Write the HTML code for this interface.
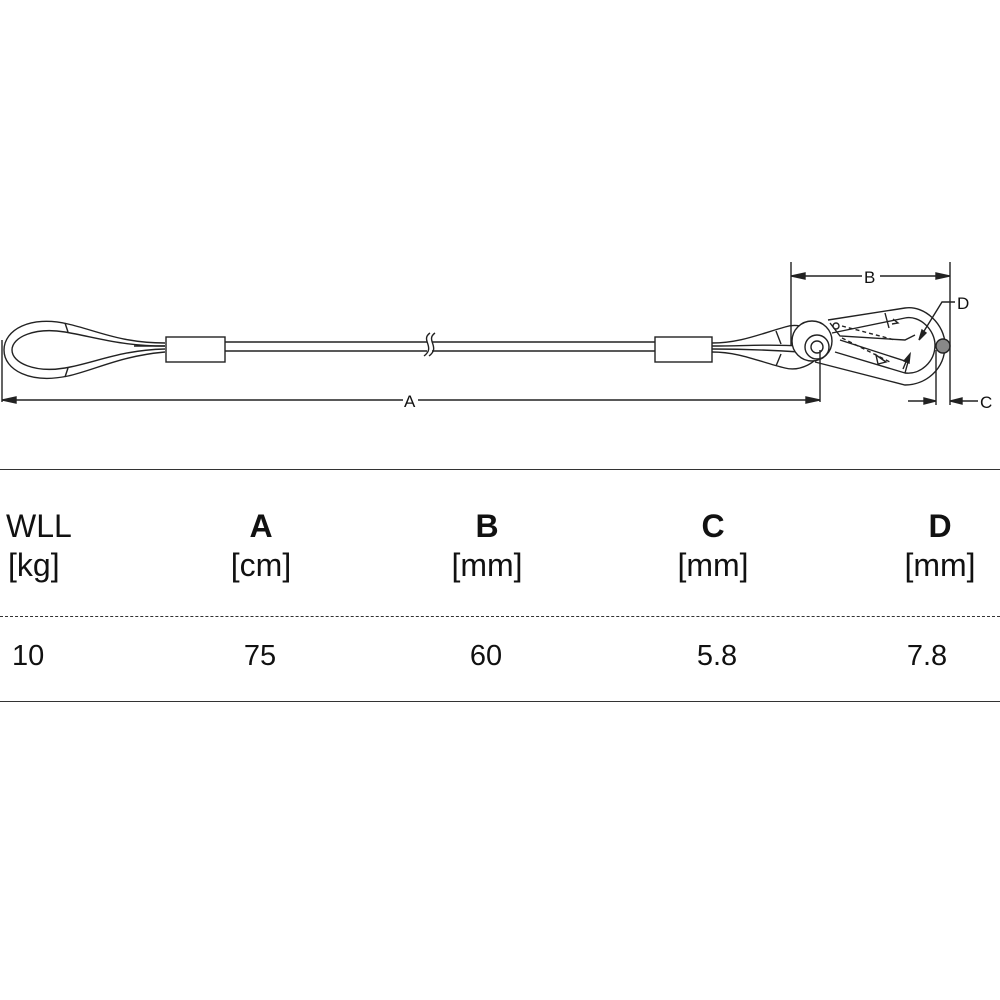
<!DOCTYPE html>
<html><head><meta charset="utf-8"><style>
html,body{margin:0;padding:0;background:#fff;}
body{width:1000px;height:1000px;position:relative;overflow:hidden;font-family:"Liberation Sans",sans-serif;color:#111;}
.t{position:absolute;font-size:32px;line-height:1;white-space:nowrap;}
.c{transform:translateX(-50%);}
.b{font-weight:bold;}
</style></head><body>
<svg width="1000" height="480" style="position:absolute;left:0;top:0" fill="none" stroke="#222" stroke-width="1.4">
<!-- left loop -->
<path d="M165,343 C120,343 95,330 68,324 C30,315 4,330 4,350 C4,370 30,384 68,376 C95,370 120,356 165,352"/>
<path d="M165,346 C120,346 95,337 65,332 C35,327 12,337 12,350 C12,363 35,373 65,368 C95,363 120,350 165,349"/>
<path d="M134,346 L165,346"/>
<line x1="65" y1="323" x2="68" y2="332"/><line x1="65" y1="377" x2="68" y2="368"/>
<!-- ferrules -->
<rect x="166" y="337" width="59" height="25" fill="#fff"/>
<rect x="655" y="337" width="57" height="25" fill="#fff"/>
<!-- cable -->
<line x1="225" y1="342" x2="427" y2="342"/><line x1="225" y1="351" x2="427" y2="351"/>
<line x1="432" y1="342" x2="655" y2="342"/><line x1="432" y1="351" x2="655" y2="351"/>
<path d="M430,333 C420,340 436,347 424,356"/><path d="M435,333 C425,340 441,347 429,356"/>
<!-- right thimble loop around ring -->
<path d="M712,343 C740,343 760,334 785,327 C800,322 815,330 818,342"/>
<path d="M712,346 C745,346 770,344 800,346"/>
<path d="M712,349 C745,349 770,350 800,352"/>
<path d="M712,352 C740,352 760,362 785,368 C800,372 818,362 820,352"/>
<line x1="776" y1="331" x2="781" y2="344"/><line x1="776" y1="366" x2="781" y2="354"/>
<!-- carabiner body -->
<path d="M828,320 L905,308 C925,305 945,325 945,345 C945,370 925,385 905,385 L815,362" fill="#fff"/>
<path d="M832,333 L905,318 C920,315 935,330 935,345 C935,362 920,375 905,373 L835,352"/>
<line x1="885" y1="313" x2="889" y2="328"/>
<path d="M830,323 L840,336 L905,340 L915,335"/>
<path d="M840,340 L908,362 L905,373"/>
<line x1="842" y1="326" x2="895" y2="340" stroke-dasharray="4,3"/>
<line x1="842" y1="338" x2="890" y2="362" stroke-dasharray="4,3"/>
<path d="M876,355 L886,362 L878,364 Z"/>
<path d="M893,319 L898,323 L892,324"/>
<circle cx="836" cy="326" r="3"/>
<!-- rings -->
<circle cx="812" cy="341" r="20" fill="#fff"/>
<circle cx="817" cy="347" r="12" fill="#fff"/>
<circle cx="817" cy="347" r="6"/>
<circle cx="943" cy="346" r="7" fill="#888"/>
<!-- dimension A -->
<line x1="2" y1="340" x2="2" y2="402"/>
<line x1="2" y1="400" x2="403" y2="400"/><line x1="418" y1="400" x2="820" y2="400"/>
<line x1="820" y1="350" x2="820" y2="402"/>
<path d="M2,400 L16,397 L16,403 Z" fill="#222"/><path d="M820,400 L806,397 L806,403 Z" fill="#222"/>
<!-- dimension B -->
<line x1="791" y1="262" x2="791" y2="345"/><line x1="950" y1="262" x2="950" y2="405"/>
<line x1="791" y1="276" x2="862" y2="276"/><line x1="880" y1="276" x2="950" y2="276"/>
<path d="M791,276 L805,273 L805,279 Z" fill="#222"/><path d="M950,276 L936,273 L936,279 Z" fill="#222"/>
<!-- C -->
<line x1="936" y1="350" x2="936" y2="405"/>
<line x1="908" y1="401" x2="936" y2="401"/><path d="M936,401 L924,398 L924,404 Z" fill="#222"/>
<line x1="950" y1="401" x2="978" y2="401"/><path d="M950,401 L962,398 L962,404 Z" fill="#222"/>
<!-- D -->
<path d="M955,302 L942,302 L921,336"/><path d="M919,340 L922,330 L926,333 Z" fill="#222"/>
<path d="M903,369 L908,357"/><path d="M910,354 L904,361 L909,363 Z" fill="#222"/>
<g stroke="none" fill="#111" font-family="Liberation Sans, sans-serif" font-size="17">
<text x="404" y="407">A</text><text x="864" y="283">B</text>
<text x="957" y="309">D</text><text x="980" y="408">C</text></g>
</svg>
<div style="position:absolute;left:0;top:469px;width:1000px;border-top:1.5px solid #333"></div>
<div style="position:absolute;left:0;top:616px;width:1000px;border-top:1.5px dashed #333"></div>
<div style="position:absolute;left:0;top:701px;width:1000px;border-top:1.5px solid #333"></div>
<div class="t" style="left:6px;top:510px">WLL</div>
<div class="t" style="left:8px;top:549px">[kg]</div>
<div class="t c b" style="left:261px;top:510px">A</div>
<div class="t c" style="left:261px;top:549px">[cm]</div>
<div class="t c b" style="left:487px;top:510px">B</div>
<div class="t c" style="left:487px;top:549px">[mm]</div>
<div class="t c b" style="left:713px;top:510px">C</div>
<div class="t c" style="left:713px;top:549px">[mm]</div>
<div class="t c b" style="left:940px;top:510px">D</div>
<div class="t c" style="left:940px;top:549px">[mm]</div>
<div class="t" style="left:12px;top:642px;font-size:29px">10</div>
<div class="t c" style="left:260px;top:642px;font-size:29px">75</div>
<div class="t c" style="left:486px;top:642px;font-size:29px">60</div>
<div class="t c" style="left:717px;top:642px;font-size:29px">5.8</div>
<div class="t c" style="left:927px;top:642px;font-size:29px">7.8</div>
</body></html>
